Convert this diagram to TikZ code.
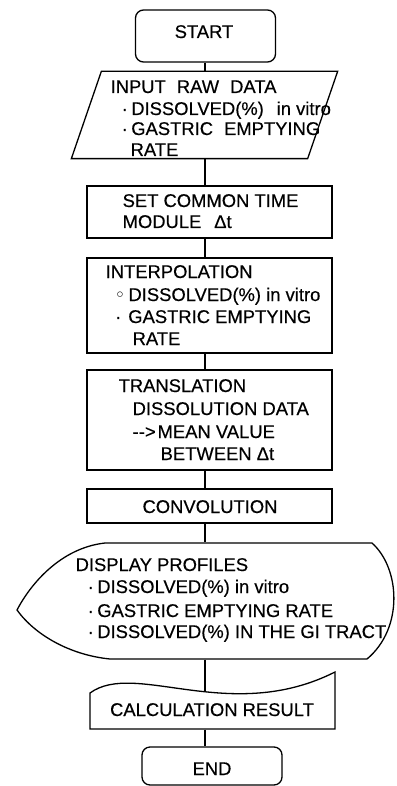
\documentclass[tikz,border=0pt]{standalone}
\usepackage{fontspec}
\setmainfont{Liberation Sans}[FakeBold=0.4]
\newfontfamily\dvfont{DejaVu Sans}
\usetikzlibrary{calc}
\begin{document}
\begin{tikzpicture}[x=1pt,y=-1pt,line width=1.3pt,
  lbl/.style={anchor=base west,inner sep=0pt,font=\fontsize{18.4}{22}\selectfont},
  clbl/.style={lbl,anchor=base},
  box/.style={draw,rectangle,inner sep=0pt},
  termbox/.style={box,rounded corners=8pt},
  frame/.style={rectangle,inner sep=0pt},
  link/.style={draw}]
\useasboundingbox (0,0) rectangle (396,786);
\coordinate (spine) at (205,0);

% START
\node[termbox,minimum width=140pt,minimum height=52pt] (start) at (205.5,36) {};
\node[clbl] (startT) at (204,38) {START};

% INPUT (parallelogram)
\node[frame,minimum width=265pt,minimum height=86pt] (input) at (204.5,115) {};
\draw ($(input.north west)+(30,0)$) -- (input.north east) -- ($(input.south east)+(-30,0)$) -- (input.south west) -- cycle;
\node[lbl] (inA) at (110,93) {INPUT\hspace{0.6em}RAW\hspace{0.6em}DATA};
\node[lbl] (inB) at (121,115) {·\hspace{3.5pt}DISSOLVED(\%)\hspace{0.7em}in vitro};
\node[lbl] (inC) at (121,135) {·\hspace{3.5pt}GASTRIC\hspace{0.6em}EMPTYING};
\node[lbl] (inD) at (130,156) {RATE};

% SET COMMON TIME
\node[box,minimum width=245pt,minimum height=52pt] (set) at (209.5,212) {};
\node[lbl] (setA) at (122,207) {SET COMMON TIME};
\node[lbl] (setB) at (122,228) {MODULE\hspace{0.7em}Δt};

% INTERPOLATION
\node[box,minimum width=245pt,minimum height=95pt] (interp) at (209.5,305.5) {};
\node[lbl] (ipA) at (105,278) {INTERPOLATION};
\node[lbl] (ipB) at (114,301) {{\dvfont ◦}\hspace{3pt}DISSOLVED(\%) in vitro};
\node[lbl] (ipC) at (114.5,323) {·\hspace{7pt}GASTRIC EMPTYING};
\node[lbl] (ipD) at (132,345) {RATE};

% TRANSLATION
\node[box,minimum width=245pt,minimum height=100pt] (trans) at (209.5,420) {};
\node[lbl] (trA) at (118,392) {TRANSLATION};
\node[lbl] (trB) at (132,415) {DISSOLUTION DATA};
\node[lbl] (trC) at (132,438) {-{}->\hspace{2pt}MEAN VALUE};
\node[lbl] (trD) at (160,460) {BETWEEN Δt};

% CONVOLUTION
\node[box,minimum width=245pt,minimum height=34pt] (conv) at (209.5,506) {};
\node[clbl] (convT) at (210,513) {CONVOLUTION};

% DISPLAY
\node[frame,minimum width=379pt,minimum height=116pt] (display) at (206.5,601) {};
\draw (105,543) -- (372,543) .. controls (400,568) and (404,628) .. (367,659)
  -- (110,659) .. controls (70,655) and (35,635) .. (17,610)
  .. controls (30,585) and (60,548) .. (105,543) -- cycle;
\node[lbl] (dpA) at (75,571) {DISPLAY PROFILES};
\node[lbl] (dpB) at (87,593) {·\hspace{3.5pt}DISSOLVED(\%) in vitro};
\node[lbl] (dpC) at (87,617) {·\hspace{3.5pt}GASTRIC EMPTYING RATE};
\node[lbl] (dpD) at (87,638) {·\hspace{3.5pt}DISSOLVED(\%) IN THE GI TRACT};

% CALCULATION RESULT (document)
\node[frame,minimum width=245pt,minimum height=57pt] (doc) at (212.5,700.5) {};
\draw (90,693) .. controls (135,660) and (230,725) .. (335,672) -- (335,729) -- (90,729) -- cycle;
\node[clbl] (docT) at (212,716) {CALCULATION RESULT};
\coordinate (docin) at (205,691.5);

% END
\node[termbox,minimum width=140pt,minimum height=38pt] (end) at (212,766) {};
\node[clbl] (endT) at (212,775) {END};

% connectors
\draw (spine |- start.south) -- (spine |- input.north);
\draw (spine |- input.south) -- (spine |- set.north);
\draw (spine |- set.south) -- (spine |- interp.north);
\draw (spine |- interp.south) -- (spine |- trans.north);
\draw (spine |- trans.south) -- (spine |- conv.north);
\draw (spine |- conv.south) -- (spine |- display.north);
\draw (spine |- display.south) -- (docin);
\draw (spine |- doc.south) -- (spine |- end.north);
\end{tikzpicture}
\end{document}
